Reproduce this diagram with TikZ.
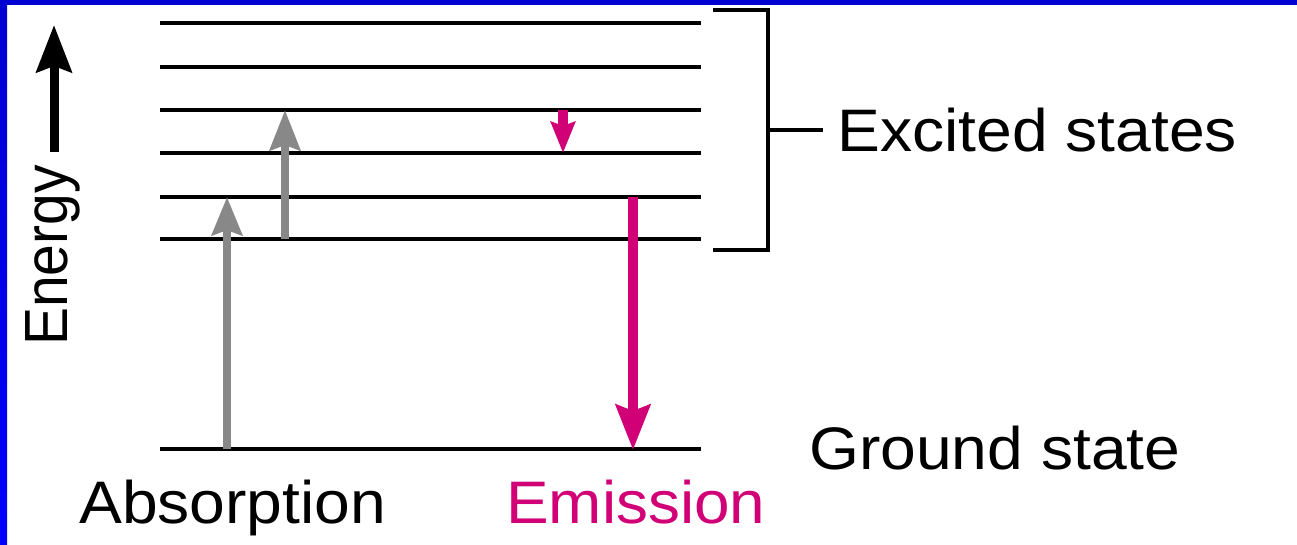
\documentclass[tikz,border=0pt]{standalone}
\usepackage{fontspec}
\setmainfont{Liberation Sans}
\usetikzlibrary{arrows.meta}
\definecolor{bblue}{RGB}{0,0,210}
\definecolor{bblue2}{RGB}{0,0,255}
\definecolor{agray}{RGB}{136,136,136}
\definecolor{emag}{RGB}{210,0,118}
\tikzset{
  level/.style={line width=3.6pt},
  brack/.style={line width=4pt},
  lbl/.style={font=\fontsize{60}{62}\selectfont, inner sep=0pt, xscale=1.07},
}
\begin{document}
\begin{tikzpicture}[x=1pt,y=-1pt]
\useasboundingbox (0,0) rectangle (1297,545);
\fill[white] (0,0) rectangle (1297,545);
\shade[top color=bblue, bottom color=bblue2] (0,0) rectangle (7,545);
\fill[bblue] (0,0) rectangle (1297,5);
% level coordinates
\foreach \n/\y in {1/23,2/67,3/110,4/153,5/197,6/239,g/449}{
  \coordinate (L\n w) at (160,\y);
  \coordinate (L\n e) at (701,\y);
  \draw[level] (L\n w) -- (L\n e);
}
% energy arrow
\coordinate (Eb) at (54,152);
\coordinate (Et) at (54,25);
\draw[line width=9pt, -{Stealth[length=47pt,width=35pt,inset=6pt]}] (Eb) -- (Et);
\node[lbl, font=\fontsize{57}{60}\selectfont, xscale=1, rotate=90, anchor=base west] (energy) at (67,346) {Energy};
% absorption arrows
\coordinate (A1b) at (227,449);
\coordinate (A1t) at (227,197);
\coordinate (A2b) at (285,239);
\coordinate (A2t) at (285,110);
\draw[agray, line width=8.5pt, -{Stealth[length=38pt,width=30pt,inset=5pt]}] (A1b) -- (A1t);
\draw[agray, line width=8.5pt, -{Stealth[length=40pt,width=30pt,inset=5pt]}] (A2b) -- (A2t);
% emission arrows
\coordinate (M1b) at (563,110);
\coordinate (M1t) at (563,153);
\coordinate (M2b) at (633,197);
\coordinate (M2t) at (633,450);
\draw[emag, line width=9.5pt, -{Stealth[length=31pt,width=24pt,inset=4pt]}] (M1b) -- (M1t);
\draw[emag, line width=9.5pt, -{Stealth[length=45pt,width=34pt,inset=6pt]}] (M2b) -- (M2t);
% bracket
\coordinate (Bt) at (713,10);
\coordinate (Bb) at (713,250);
\coordinate (Bm) at (768,130);
\coordinate (Bx) at (823,130);
\draw[brack] (Bt) -- (768,10) -- (768,250) -- (Bb);
\draw[brack] (Bm) -- (Bx);
% labels
\node[lbl, anchor=west] (exc) at (837,130) {Excited states};
\node[lbl, anchor=west] (gnd) at (809,448) {Ground state};
\node[lbl, anchor=base west] (abs) at (79,523) {Absorption};
\node[lbl, anchor=base west, text=emag, xscale=0.995] (emi) at (506,523) {Emission};
\end{tikzpicture}
\end{document}
